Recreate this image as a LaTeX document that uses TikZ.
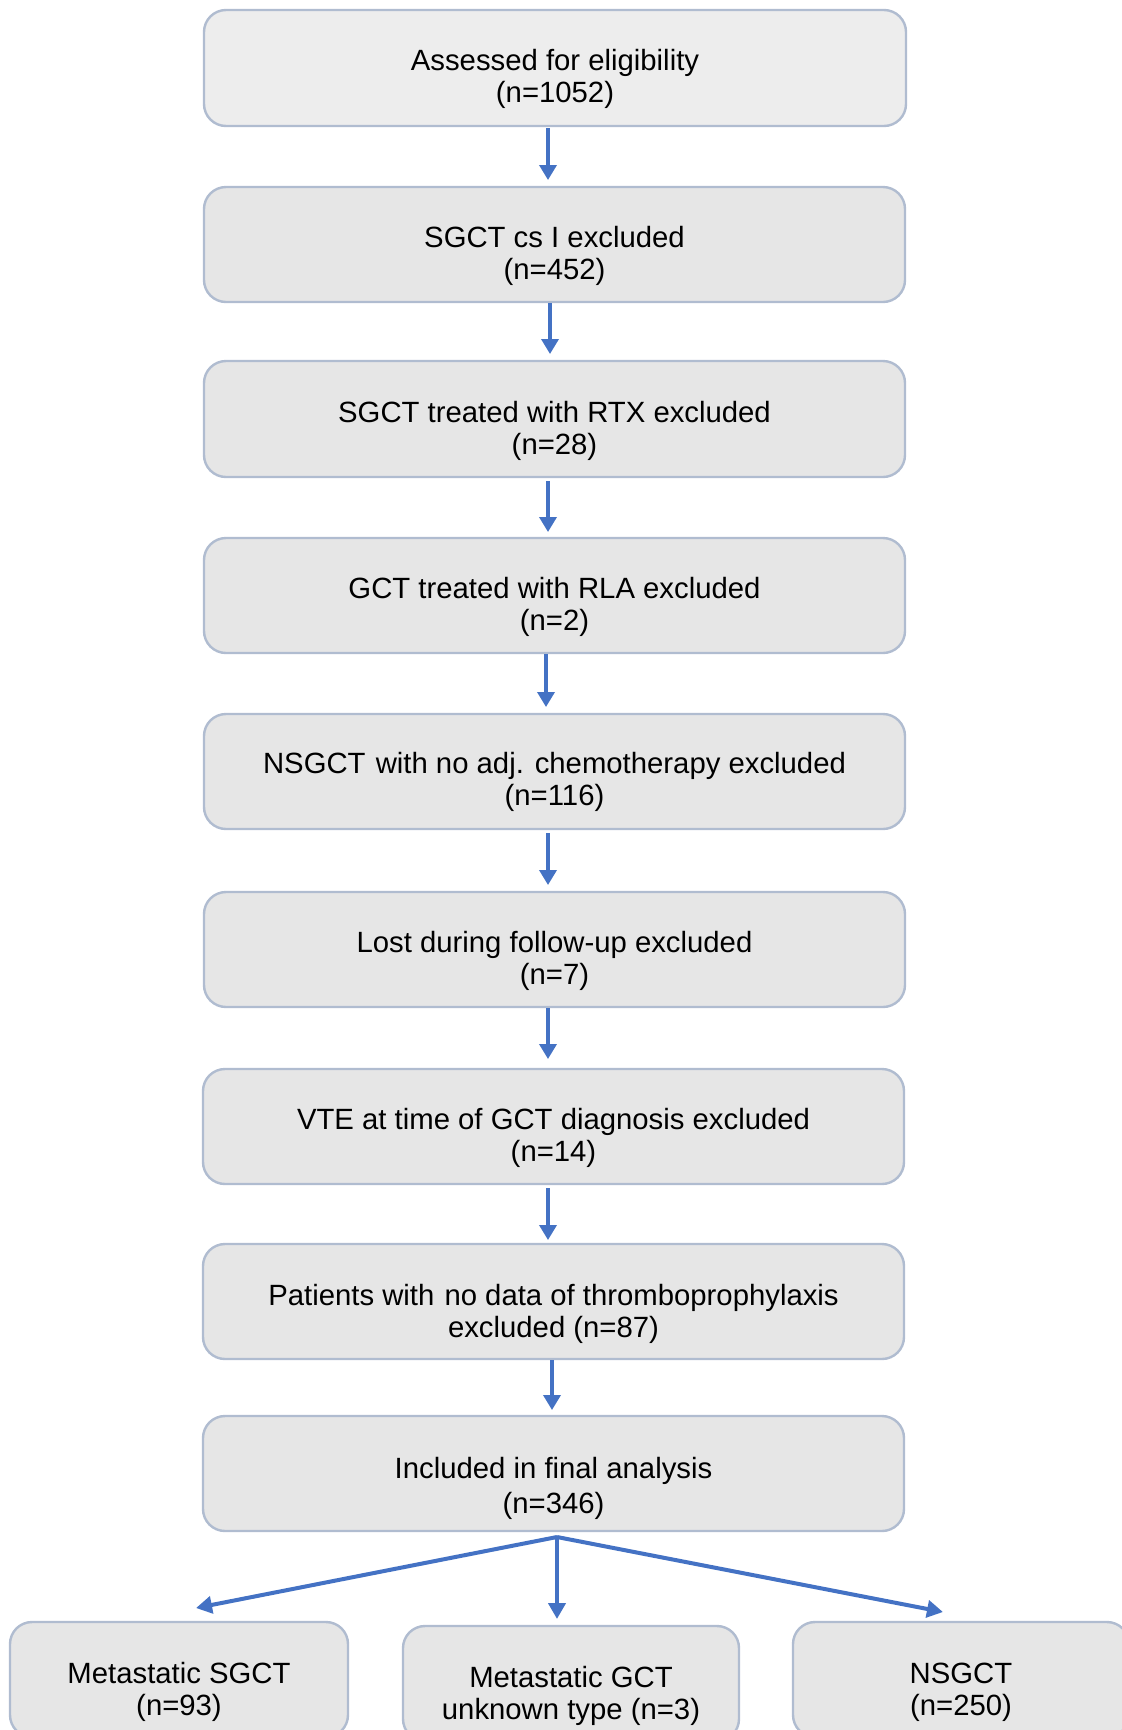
\documentclass[tikz,border=0pt]{standalone}
\usepackage{fontspec}
\setmainfont{Liberation Sans}
\usetikzlibrary{arrows.meta,calc}
\definecolor{boxfill}{HTML}{E6E6E6}
\definecolor{boxfillA}{HTML}{EDEDED}
\definecolor{boxline}{HTML}{B0BCD0}
\definecolor{arrowblue}{HTML}{4472C4}
\begin{document}
\begin{tikzpicture}[x=0.5pt,y=0.5pt,
  box/.style={draw=boxline,line width=1.2pt,fill=boxfill,rounded corners=11pt,
    minimum width=350.5pt,minimum height=57.5pt,inner sep=0pt,outer sep=0pt},
  smallbox/.style={box,minimum width=168pt},
  txt/.style={anchor=base,inner sep=0pt,font=\fontsize{14.65}{16}\selectfont},
  arr/.style={draw=arrowblue,line width=1.75pt,-{Triangle[length=7.5pt,width=8.5pt]}},
  arrb/.style={draw=arrowblue,line width=2pt,-{Triangle[length=8pt,width=8.5pt]}}]
\useasboundingbox (0,0) rectangle (1121,-1730);
\fill[white] (0,0) rectangle (1121,-1730);

% boxes
\node[box,fill=boxfillA,minimum width=351pt,minimum height=58pt] (b1) at (555,-68) {};
\node[box] (b2) at (554.5,-244.5) {};
\node[box,minimum height=58pt] (b3) at (554.5,-419) {};
\node[box] (b4) at (554.5,-595.5) {};
\node[box] (b5) at (554.5,-771.5) {};
\node[box] (b6) at (554.5,-949.5) {};
\node[box] (b7) at (553.5,-1126.5) {};
\node[box] (b8) at (553.5,-1301.5) {};
\node[box] (b9) at (553.5,-1473.5) {};
\node[smallbox,minimum width=169pt] (m1) at (179,-1679.5) {};
\node[smallbox] (m2) at (571,-1683.5) {};
\node[smallbox] (m3) at (961,-1679.5) {};

% texts
\node[txt] (t1) at ($(b1.center)+(0,-2)$) {\begin{tabular}[t]{@{}c@{}}Assessed for eligibility\\(n=1052)\end{tabular}};
\node[txt] (t2) at ($(b2.center)+(0,-3)$) {\begin{tabular}[t]{@{}c@{}}SGCT cs I excluded\\(n=452)\end{tabular}};
\node[txt] (t3) at ($(b3.center)+(0,-3)$) {\begin{tabular}[t]{@{}c@{}}SGCT treated with RTX excluded\\(n=28)\end{tabular}};
\node[txt] (t4) at ($(b4.center)+(0,-3)$) {\begin{tabular}[t]{@{}c@{}}GCT treated with RLA excluded\\(n=2)\end{tabular}};
\node[txt] (t5) at ($(b5.center)+(0,-2)$) {\begin{tabular}[t]{@{}c@{}}NSGCT\hspace{1pt} with no adj. chemotherapy excluded\\(n=116)\end{tabular}};
\node[txt] (t6) at ($(b6.center)+(0,-3)$) {\begin{tabular}[t]{@{}c@{}}Lost during follow-up excluded\\(n=7)\end{tabular}};
\node[txt] (t7) at ($(b7.center)+(0,-3)$) {\begin{tabular}[t]{@{}c@{}}VTE at time of GCT diagnosis excluded\\(n=14)\end{tabular}};
\node[txt] (t8) at ($(b8.center)+(0,-3.5)$) {\begin{tabular}[t]{@{}c@{}}Patients with\hspace{1pt} no data of thromboprophylaxis\\excluded (n=87)\end{tabular}};
\node[txt,font=\fontsize{14.65}{17.5}\selectfont] (t9) at ($(b9.center)+(0,-4.5)$) {\begin{tabular}[t]{@{}c@{}}Included in final analysis\\(n=346)\end{tabular}};
\node[txt] (u1) at ($(m1.center)+(0,-3.5)$) {\begin{tabular}[t]{@{}c@{}}Metastatic SGCT\\(n=93)\end{tabular}};
\node[txt] (u2) at ($(m2.center)+(0,-3.5)$) {\begin{tabular}[t]{@{}c@{}}Metastatic GCT\\unknown type (n=3)\end{tabular}};
\node[txt] (u3) at ($(m3.center)+(0,-3.5)$) {\begin{tabular}[t]{@{}c@{}}NSGCT\\(n=250)\end{tabular}};

% vertical connectors
\draw[arr] ($(b1.south)+(-7,-2)$) -- ($(b2.north)+(-6.5,7)$);
\draw[arr] ($(b2.south)+(-4.5,-1)$) -- ($(b3.north)+(-4.5,7)$);
\draw[arr] ($(b3.south)+(-6.5,-4)$) -- ($(b4.north)+(-6.5,6)$);
\draw[arr] ($(b4.south)+(-8.5,-1)$) -- ($(b5.north)+(-8.5,7)$);
\draw[arr] ($(b5.south)+(-6.5,-4)$) -- ($(b6.north)+(-6.5,7)$);
\draw[arr] ($(b6.south)+(-6.5,-1)$) -- ($(b7.north)+(-5.5,10)$);
\draw[arr] ($(b7.south)+(-5.5,-4)$) -- ($(b8.north)+(-5.5,4)$);
\draw[arr] ($(b8.south)+(-1.5,-1)$) -- ($(b9.north)+(-1.5,6)$);

% split connectors
\coordinate (sp) at ($(b9.south)+(3.5,-6)$);
\coordinate (e1) at ($(m1.north)+(17,14)$);
\coordinate (e2) at ($(m2.north)+(-14,7)$);
\coordinate (e3) at ($(m3.north)+(-18,10)$);
\draw[arrb] (sp) -- (e1);
\draw[arrb] (sp) -- (e2);
\draw[arrb] (sp) -- (e3);
\end{tikzpicture}
\end{document}
